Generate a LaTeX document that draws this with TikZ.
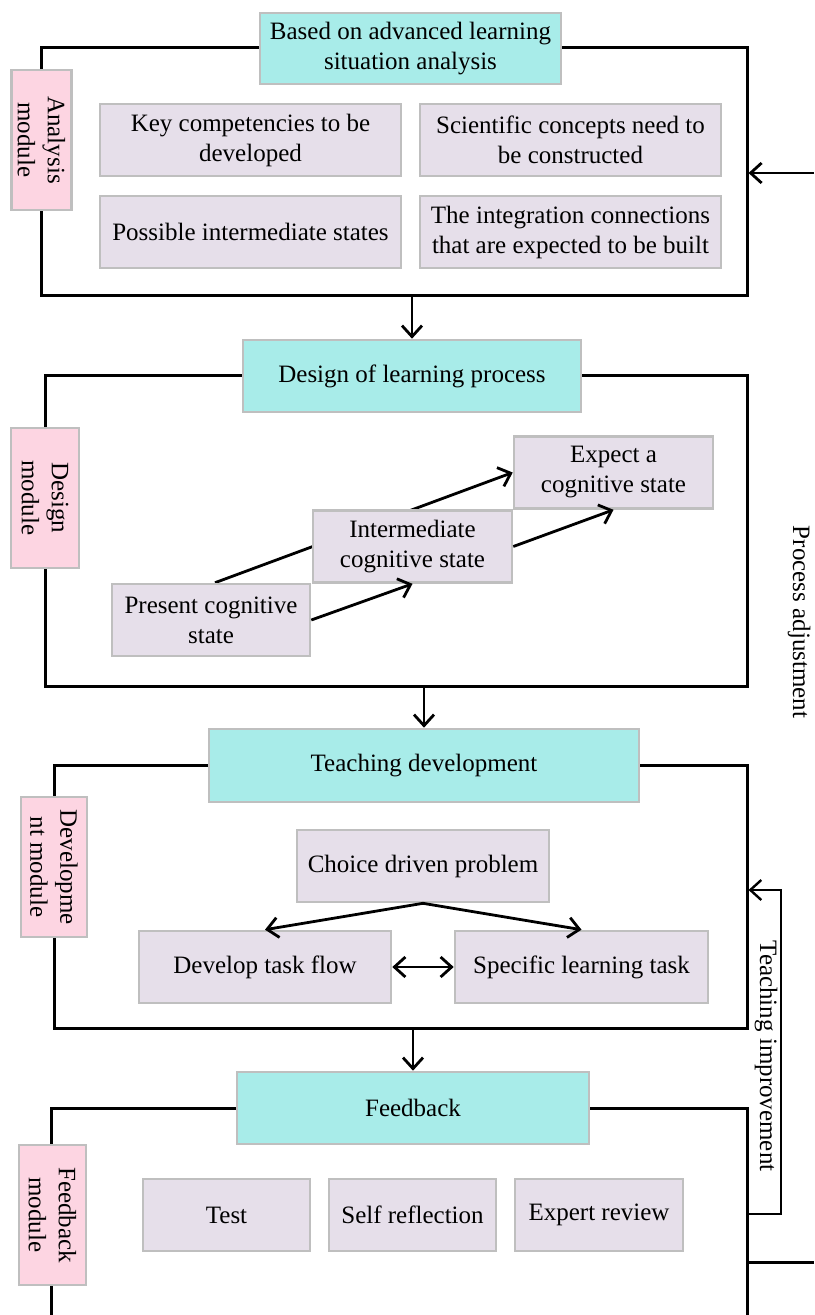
\documentclass[tikz,border=0pt]{standalone}
\usepackage{fontspec}
\setmainfont{Liberation Serif}
\usetikzlibrary{arrows.meta}
\pgfdeclarelayer{background}
\pgfsetlayers{background,main}
\definecolor{cyanfill}{HTML}{A8ECE9}
\definecolor{lavfill}{HTML}{E6DFEA}
\definecolor{pinkfill}{HTML}{FDD5E2}
\definecolor{boxborder}{HTML}{BFBFBF}
\begin{document}
\begin{tikzpicture}[x=0.5pt,y=-0.5pt,
  font=\fontsize{12.5}{15}\selectfont,
  base/.style={draw=boxborder, line width=1.3pt, inner sep=0pt, align=center},
  headbox/.style={base, fill=cyanfill},
  itembox/.style={base, fill=lavfill, minimum height=36pt},
  modbox/.style={base, fill=pinkfill, rotate=-90, minimum width=70pt},
  frame/.style={draw=black, line width=1.5pt, inner sep=0pt},
  conn/.style={line width=1.4pt, -{Straight Barb[length=5.5pt,width=10pt]}},
  dconn/.style={line width=1.4pt, {Straight Barb[length=5.5pt,width=10pt]}-{Straight Barb[length=5.5pt,width=10pt]}},
  side/.style={line width=1.2pt},
  vlabel/.style={rotate=-90, inner sep=0pt}
]
\useasboundingbox (0,0) rectangle (814,1315);

% ---------- Analysis module ----------
\node[frame, minimum width=352.75pt, minimum height=124pt] (f1) at (394.25,172) {};
\node[headbox, minimum width=150.5pt, minimum height=35.5pt] (c1) at (410.5,48.5) {Based on advanced learning\\situation analysis};
\node[modbox, minimum height=30pt] (m1) at (41.5,140) {Analysis\\module};
\node[itembox, minimum width=150.5pt] (k1) at (250.5,140) {Key competencies to be\\developed};
\node[itembox, minimum width=150.5pt] (k2) at (570.5,140) {Scientific concepts need to\\be constructed};
\node[itembox, minimum width=150.5pt] (k3) at (250.5,232) {Possible intermediate states};
\node[itembox, minimum width=150.5pt] (k4) at (570.5,232) {The integration connections\\that are expected to be built};

% ---------- Design module ----------
\node[frame, minimum width=351pt, minimum height=155pt] (f2) at (396,531) {};
\node[headbox, minimum width=169pt, minimum height=36pt] (c2) at (412,376) {Design of learning process};
\node[modbox, minimum height=34pt] (m2) at (45,498) {Design\\module};
\node[itembox, minimum width=99.5pt] (d3) at (613.5,472.5) {Expect a\\cognitive state};
\node[itembox, minimum width=99.5pt] (d2) at (412.5,546.5) {Intermediate\\cognitive state};
\node[itembox, minimum width=99pt] (d1) at (211,620) {Present cognitive\\state};

% ---------- Development module ----------
\node[frame, minimum width=346.5pt, minimum height=131.5pt] (f3) at (400.5,896.5) {};
\node[headbox, minimum width=215pt, minimum height=36.5pt] (c3) at (424,765.5) {Teaching development};
\node[modbox, minimum height=33pt] (m3) at (54,867) {Developme\\nt module};
\node[itembox, minimum width=126pt] (t1) at (423,866) {Choice driven problem};
\node[itembox, minimum width=126pt] (t2) at (265,967) {Develop task flow};
\node[itembox, minimum width=126.5pt] (t3) at (581.5,967) {Specific learning task};

% ---------- Feedback module ----------
\coordinate (f4tl) at (51,1108);
\coordinate (f4tr) at (747,1108);
\coordinate (f4bl) at (51,1316);
\coordinate (f4br) at (747,1316);
\draw[line width=1.5pt] (f4bl) -- (f4tl) -- (f4tr) -- (f4br);
\node[headbox, minimum width=176pt, minimum height=36pt] (c4) at (413,1108) {Feedback};
\node[modbox, minimum height=33.5pt] (m4) at (52.5,1215) {Feedback\\module};
\node[itembox, minimum width=83.5pt] (b1) at (226.5,1215) {Test};
\node[itembox, minimum width=83.5pt] (b2) at (412.5,1215) {Self reflection};
\node[itembox, minimum width=84pt] (b3) at (599,1215) {Expert review};

% ---------- connectors between modules ----------
\draw[conn] (f1.south -| c2.north) -- (c2.north);
\draw[conn] (f2.south -| c3.north) -- (c3.north);
\draw[conn] (f3.south -| c4.north) -- (c4.north);

% ---------- design arrows ----------
\begin{pgfonlayer}{background}
\draw[conn] ([xshift=2pt]d1.north) -- (d3.west);
\end{pgfonlayer}
\draw[conn] (d1.east) -- (d2.south);
\draw[conn] (d2.east) -- (d3.south);

% ---------- development arrows ----------
\draw[conn] (t1.south) -- (t2.north);
\draw[conn] (t1.south) -- (t3.north);
\draw[dconn] (t2.east) -- (t3.west);

% ---------- process adjustment ----------
\coordinate (pt) at (814,173);
\coordinate (pb) at (814,1262);
\draw[conn] (pt) -- (pt -| f1.east);
\draw[line width=1.5pt] (pb -| f4br) -- (pb);
\node[vlabel] (pa) at (799,622) {Process adjustment};

% ---------- teaching improvement ----------
\coordinate (tb) at (781,1214);
\coordinate (tt) at (781,890);
\draw[side, -{Straight Barb[length=5.5pt,width=10pt]}] (tb -| f4br) -- (tb) -- (tt) -- (tt -| f3.east);
\node[vlabel] (ti) at (766,1056) {Teaching improvement};
\end{tikzpicture}
\end{document}
